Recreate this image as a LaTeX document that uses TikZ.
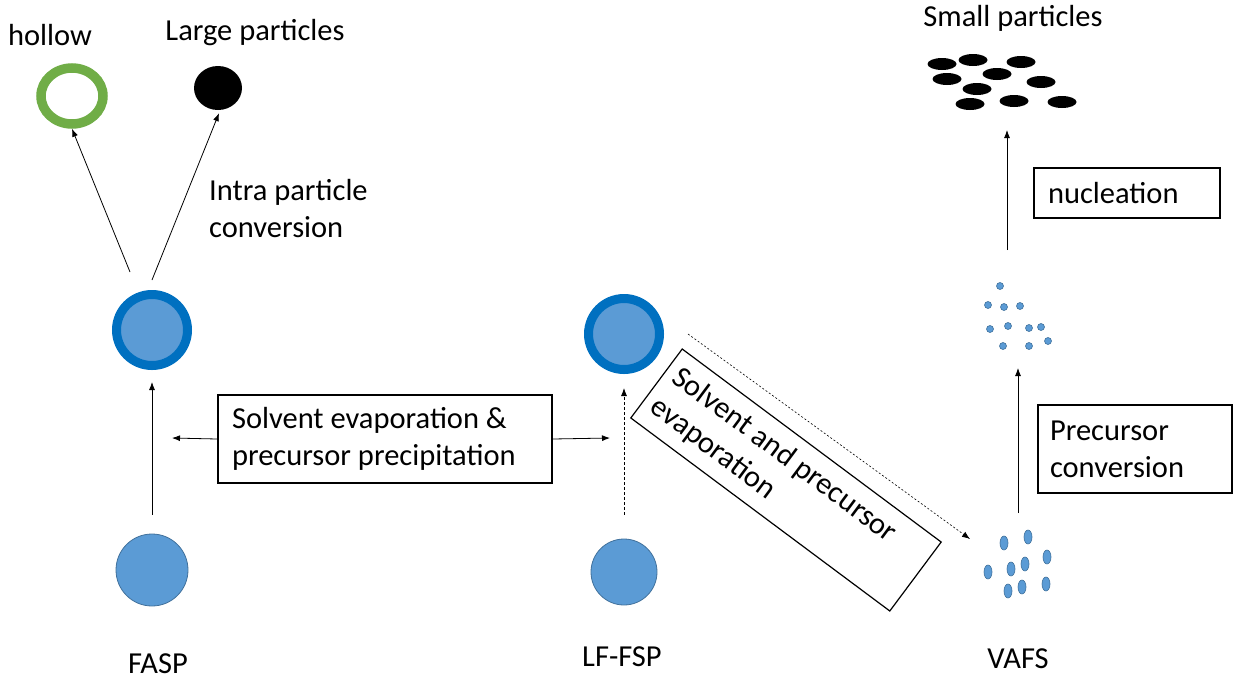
\documentclass[tikz,border=0pt]{standalone}
\usepackage{fontspec}
\setmainfont{Carlito}
\usetikzlibrary{shapes.geometric,arrows.meta}
\definecolor{ringblue}{HTML}{0070C0}
\definecolor{dropblue}{HTML}{5B9BD5}
\definecolor{dropedge}{HTML}{41719C}
\definecolor{hollowgreen}{HTML}{70AD47}
\tikzset{
  lbl/.style={font=\fontsize{30.5}{37}\selectfont, inner sep=0pt},
  arr/.style={-{Latex[length=8pt,width=6pt]}, line width=0.8pt},
  darr/.style={arr, dash pattern=on 3pt off 2pt},
  dotarr/.style={arr, line width=0.6pt, dash pattern=on 2pt off 2pt},
  boxed/.style={draw, line width=1.2pt, font=\fontsize{30.5}{37}\selectfont, align=flush left, inner ysep=0pt},
  ringnode/.style={circle, draw=ringblue, fill=dropblue, line width=9pt, minimum size=71pt, inner sep=0pt},
  dropnode/.style={circle, draw=dropedge, fill=dropblue, line width=0.8pt, minimum size=#1, inner sep=0pt},
  vdrop/.style={ellipse, draw=dropedge, fill=dropblue, line width=0.6pt, minimum width=8pt, minimum height=14pt, inner sep=0pt},
  ndot/.style={circle, draw=dropedge, fill=dropblue, line width=0.6pt, minimum size=7pt, inner sep=0pt},
  sp/.style={ellipse, fill=black, minimum width=29pt, minimum height=12pt, inner sep=0pt},
}
\begin{document}
\begin{tikzpicture}[x=1pt,y=-1pt]
\useasboundingbox (0,0) rectangle (1234,686);
% top left
\node[lbl] (thollow) at (50,35) {hollow};
\node[lbl] (tlarge) at (255,33) {Large particles};
\node[ellipse, draw=hollowgreen, line width=9.5pt, minimum width=62pt, minimum height=56pt, inner sep=0pt] (hollow) at (72,96) {};
\node[ellipse, fill=black, minimum width=48pt, minimum height=44pt, inner sep=0pt] (large) at (218,88) {};
\node[lbl, anchor=west, align=flush left] (tintra) at (209,209) {Intra particle\\conversion};
% FASP
\node[ringnode] (faspring) at (152,330) {};
\node[dropnode=72pt] (faspdrop) at (152,570) {};
\node[lbl] (tfasp) at (158,664) {FASP};
\coordinate (h1) at (130,272);
\coordinate (h2) at (152,280);
\draw[arr] (h1) -- (hollow.south);
\draw[arr] (h2) -- ([shift={(1,3)}]large.south);
\draw[arr, shorten <=19pt, shorten >=12pt] (faspdrop) -- (faspring);
% middle box
\node[boxed, minimum width=334pt, minimum height=88pt, text width=306pt] (evap) at (385,439) {Solvent evaporation \&\\precursor precipitation};
\coordinate (el) at (172,438);
\coordinate (er) at (610,438);
\draw[arr] (evap.west) -- (el);
\draw[arr] (evap.east) -- (er);
% LF-FSP
\node[ringnode] (lfring) at (624,334) {};
\node[dropnode=66pt] (lfdrop) at (624,572) {};
\node[lbl] (tlf) at (622,657) {LF-FSP};
\draw[darr, shorten <=24pt, shorten >=14pt] (lfdrop) -- (lfring);
% rotated box
\node[boxed, rotate=-36.7, minimum width=323pt, minimum height=86pt, text width=303pt] (rot) at (786,480) {Solvent and precursor\\evaporation};
\coordinate (ds) at (688,334);
\coordinate (de) at (970,539);
\draw[dotarr] (ds) -- (de);
% VAFS droplets
\node[vdrop] (v1) at (1004,543) {};
\node[vdrop] (v2) at (1028,537) {};
\node[vdrop] (v3) at (1047,557) {};
\node[vdrop] (v4) at (988,572) {};
\node[vdrop] (v5) at (1011,569) {};
\node[vdrop] (v6) at (1025,564) {};
\node[vdrop] (v7) at (1008,591) {};
\node[vdrop] (v8) at (1022,587) {};
\node[vdrop] (v9) at (1046,584) {};
\node[lbl] (tvafs) at (1018,659) {VAFS};
\coordinate (va1) at (1018,513);
\coordinate (va2) at (1018,368);
\draw[arr] (va1) -- (va2);
\node[boxed, minimum width=194pt, minimum height=88pt, text width=170pt] (prec) at (1135,449) {Precursor\\conversion};
% nano dots
\node[ndot] (n1) at (1000,286) {};
\node[ndot] (n2) at (988,305) {};
\node[ndot] (n3) at (1004,307) {};
\node[ndot] (n4) at (1020,306) {};
\node[ndot] (n5) at (990,329) {};
\node[ndot] (n6) at (1008,326) {};
\node[ndot] (n7) at (1029,328) {};
\node[ndot] (n8) at (1041,327) {};
\node[ndot] (n9) at (1048,341) {};
\node[ndot] (n10) at (1003,346) {};
\node[ndot] (n11) at (1029,346) {};
\coordinate (na1) at (1007,250);
\coordinate (na2) at (1007,130);
\draw[arr] (na1) -- (na2);
\node[boxed, minimum width=186pt, minimum height=50pt, text width=158pt] (nucl) at (1127,193) {nucleation};
% small particles
\node[lbl] (tsmall) at (1013,18) {Small particles};
\node[sp] (s1) at (942,64) {};
\node[sp] (s2) at (973,60) {};
\node[sp] (s3) at (1021,62) {};
\node[sp] (s4) at (947,79) {};
\node[sp] (s5) at (997,74) {};
\node[sp] (s6) at (1041,82) {};
\node[sp] (s7) at (977,89) {};
\node[sp] (s8) at (970,104) {};
\node[sp] (s9) at (1014,101) {};
\node[sp] (s10) at (1062,102) {};
\end{tikzpicture}
\end{document}
